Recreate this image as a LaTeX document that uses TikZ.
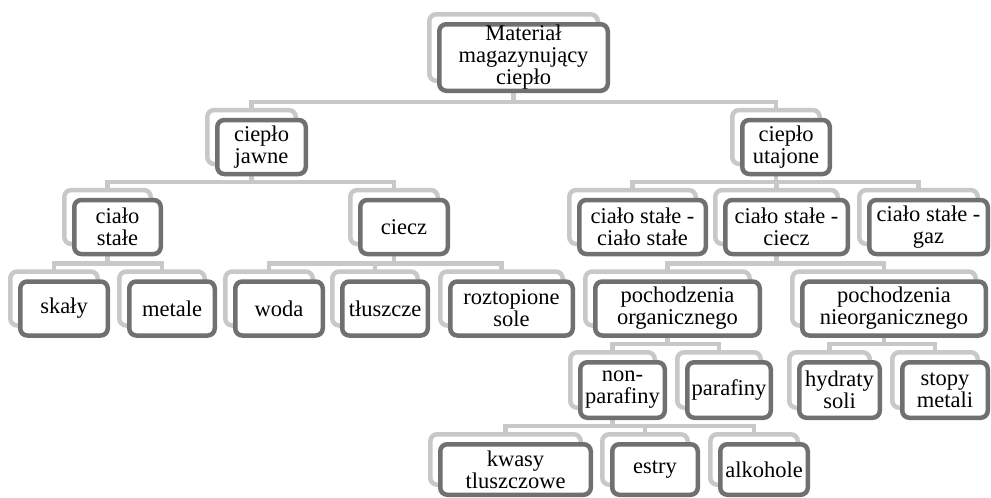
\documentclass[tikz,border=0pt]{standalone}
\usepackage{fontspec}
\setmainfont{Liberation Serif}
\definecolor{tmFrame}{RGB}{112, 112, 114}
\definecolor{tmBack}{RGB}{200, 200, 202}
\usetikzlibrary{shadows, calc, backgrounds}
\tikzset{
  treebox/.style={rectangle, rounded corners=7pt, draw=tmFrame, line width=4.5pt, fill=white,
    minimum width=#1, minimum height=54pt, inner sep=0pt, align=center,
    font=\fontsize{22.5}{22}\selectfont,
    copy shadow={shadow xshift=-10pt, shadow yshift=10pt, draw=tmBack, fill=white, line width=4.5pt}},
  treebox/.default=86pt,
  treelink/.style={draw=tmBack, line width=4.5pt},
}

\begin{document}
\begin{tikzpicture}[x=1pt, y=-1pt]
  \useasboundingbox (0, 0) rectangle (991, 498);

  % level 0 and 1
  \node[treebox=168.5pt, minimum height=66.5pt] (root) at (523.5, 57.5) {Materiał\\magazynujący\\ciepło};
  \node[treebox=88.5pt] (jawne) at (261.5, 147) {ciepło\\jawne};
  \node[treebox=87.5pt] (utajone) at (786, 147) {ciepło\\utajone};

  % level 2
  \node[treebox=86.5pt] (stale) at (117.5, 227) {ciało\\stałe};
  \node[treebox=87.5pt] (ciecz) at (404, 227) {ciecz};
  \node[treebox=126.5pt] (ssStale) at (642.5, 227) {ciało stałe -\\ciało stałe};
  \node[treebox=122.5pt] (ssCiecz) at (786.5, 227) {ciało stałe -\\ciecz};
  \node[treebox=118.5pt] (ssGaz) at (928.5, 227) {ciało stałe -\\gaz};

  % level 3
  \node[treebox=87.5pt] (skaly) at (64, 308.5) {skały};
  \node[treebox=85.5pt] (metale) at (172, 308.5) {metale};
  \node[treebox=87.5pt] (woda) at (279, 308.5) {woda};
  \node[treebox=85.5pt] (tluszcze) at (385, 308.5) {tłuszcze};
  \node[treebox=122.5pt] (sole) at (511.5, 308.5) {roztopione\\sole};
  \node[treebox=164.5pt] (organ) at (677.5, 308.5) {pochodzenia\\organicznego};
  \node[treebox=183.5pt] (nieorg) at (894, 308.5) {pochodzenia\\nieorganicznego};

  % level 4
  \node[treebox=84.5pt, minimum height=55.5pt] (nonpar) at (622.5, 390) {non-\\parafiny};
  \node[treebox=83.5pt, minimum height=55.5pt] (parafiny) at (729, 390) {parafiny};
  \node[treebox=80.5pt, minimum height=55.5pt] (hydraty) at (839.5, 390) {hydraty\\soli};
  \node[treebox=85.5pt, minimum height=55.5pt] (stopy) at (945, 390) {stopy\\metali};

  % level 5
  \node[treebox=150.5pt, minimum height=50.5pt] (kwasy) at (515.5, 469.5) {kwasy\\tluszczowe};
  \node[treebox=85.5pt, minimum height=50.5pt] (estry) at (655, 469.5) {estry};
  \node[treebox=87.5pt, minimum height=50.5pt] (alkohole) at (764, 469.5) {alkohole};

  % connectors
  \begin{scope}[on background layer]
    \foreach \p/\c in {root/jawne, root/utajone, jawne/stale, jawne/ciecz,
                       utajone/ssStale, utajone/ssCiecz, utajone/ssGaz,
                       stale/skaly, stale/metale, ciecz/woda, ciecz/tluszcze, ciecz/sole,
                       ssCiecz/organ, ssCiecz/nieorg, organ/nonpar, organ/parafiny,
                       nieorg/hydraty, nieorg/stopy, nonpar/kwasy, nonpar/estry, nonpar/alkohole}
      \draw[treelink] ($(\p.center)+(-10, 0)$) |- ($(\c.north)+(-10, -16)$) -- ($(\c.north)+(-10, -6)$);
  \end{scope}
\end{tikzpicture}
\end{document}
